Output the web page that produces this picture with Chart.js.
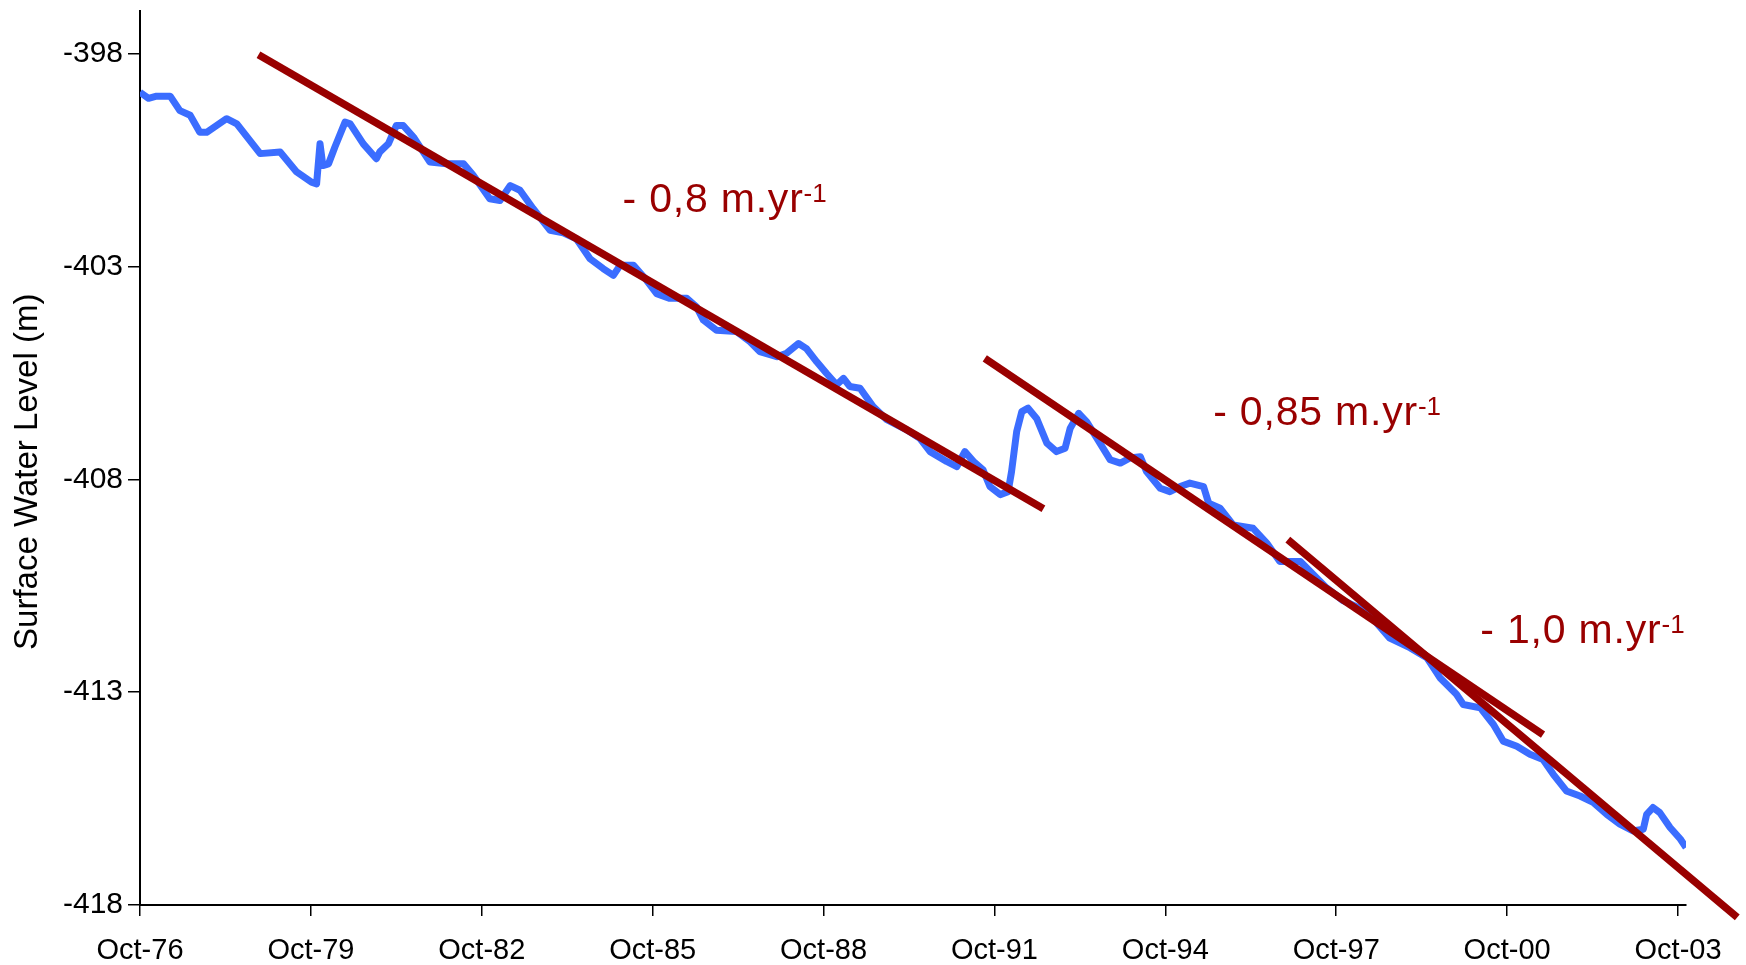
<!DOCTYPE html>
<html>
<head>
<meta charset="utf-8">
<script src="https://cdn.jsdelivr.net/npm/chart.js@4"></script>
<style>
  html, body { margin: 0; padding: 0; background: #fff; }
  canvas { display: block; }
</style>
</head>
<body>
<canvas id="levelChart" width="1746" height="965"></canvas>
<script>
// decimal years (Oct-76 = 1976.75) and surface level in metres
const obsYears = [
  1976.75, 1976.90, 1977.04, 1977.28, 1977.45, 1977.63, 1977.80, 1977.92, 1978.27, 1978.45,
  1978.86, 1979.21, 1979.50, 1979.76, 1979.85, 1979.91, 1979.96, 1980.06, 1980.17, 1980.35,
  1980.44, 1980.67, 1980.90, 1980.96, 1981.11, 1981.25, 1981.37, 1981.55, 1981.84, 1982.13,
  1982.43, 1982.60, 1982.89, 1983.07, 1983.25, 1983.42, 1983.65, 1983.95, 1984.18, 1984.41,
  1984.65, 1984.88, 1985.06, 1985.18, 1985.41, 1985.64, 1985.82, 1986.05, 1986.35, 1986.52,
  1986.64, 1986.87, 1987.22, 1987.46, 1987.63, 1987.93, 1988.10, 1988.31, 1988.45, 1988.63,
  1988.80, 1988.98, 1989.10, 1989.21, 1989.39, 1989.62, 1989.86, 1990.21, 1990.44, 1990.62,
  1990.91, 1991.09, 1991.23, 1991.38, 1991.55, 1991.67, 1991.85, 1991.99, 1992.05, 1992.14,
  1992.23, 1992.34, 1992.49, 1992.67, 1992.84, 1992.99, 1993.08, 1993.23, 1993.37, 1993.55,
  1993.78, 1993.96, 1994.13, 1994.31, 1994.42, 1994.66, 1994.83, 1995.01, 1995.18, 1995.42,
  1995.51, 1995.71, 1995.94, 1996.29, 1996.53, 1996.76, 1997.12, 1997.35, 1997.58, 1997.87,
  1998.28, 1998.69, 1999.05, 1999.34, 1999.57, 1999.86, 1999.98, 2000.28, 2000.51, 2000.68,
  2000.92, 2001.15, 2001.38, 2001.56, 2001.79, 2002.03, 2002.26, 2002.50, 2002.73, 2002.96,
  2003.14, 2003.20, 2003.31, 2003.43, 2003.61, 2003.79, 2003.89
];
const obsLevel = [
  -398.91, -399.05, -399.00, -399.00, -399.34, -399.45, -399.85, -399.85, -399.53, -399.65,
  -400.35, -400.31, -400.78, -401.02, -401.06, -400.12, -400.63, -400.59, -400.20, -399.61,
  -399.65, -400.12, -400.47, -400.31, -400.12, -399.69, -399.69, -399.96, -400.55, -400.59,
  -400.59, -400.86, -401.41, -401.45, -401.10, -401.21, -401.64, -402.15, -402.21, -402.35,
  -402.82, -403.05, -403.21, -402.97, -402.97, -403.32, -403.64, -403.75, -403.75, -403.95,
  -404.26, -404.50, -404.53, -404.77, -405.00, -405.12, -405.04, -404.81, -404.93, -405.24,
  -405.51, -405.78, -405.63, -405.82, -405.86, -406.29, -406.60, -406.84, -407.04, -407.35,
  -407.58, -407.70, -407.35, -407.58, -407.78, -408.17, -408.36, -408.29, -407.82, -406.88,
  -406.41, -406.33, -406.57, -407.15, -407.35, -407.27, -406.80, -406.45, -406.65, -407.04,
  -407.54, -407.62, -407.50, -407.47, -407.82, -408.21, -408.29, -408.17, -408.09, -408.17,
  -408.56, -408.68, -409.07, -409.15, -409.50, -409.93, -409.93, -410.24, -410.55, -410.85,
  -411.10, -411.73, -411.96, -412.19, -412.66, -413.05, -413.29, -413.37, -413.76, -414.15,
  -414.27, -414.46, -414.58, -414.93, -415.32, -415.44, -415.59, -415.87, -416.10, -416.26,
  -416.22, -415.87, -415.71, -415.83, -416.18, -416.45, -416.65
];

// fitted trend segments (start, end)
const trend1Years = [1978.83, 1992.61];
const trend1Level = [-398.03, -408.69];
const trend2Years = [1991.58, 2001.38];
const trend2Level = [-405.16, -414.00];
const trend3Years = [1996.90, 2004.79];
const trend3Level = [-409.42, -418.29];

const xTickValues = [1976.75, 1979.75, 1982.75, 1985.75, 1988.75, 1991.75, 1994.75, 1997.75, 2000.75, 2003.75];
const xTickLabels = ['Oct-76', 'Oct-79', 'Oct-82', 'Oct-85', 'Oct-88', 'Oct-91', 'Oct-94', 'Oct-97', 'Oct-00', 'Oct-03'];
const yTickValues = [-418, -413, -408, -403, -398];

const slopeLabels = ['- 0,8 m.yr', '- 0,85 m.yr', '- 1,0 m.yr'];
const slopeLabelYears = [1985.22, 1995.59, 2000.28];
const slopeLabelLevel = [-401.72, -406.72, -411.84];

const toPoints = (xs, ys) => xs.map((x, i) => ({ x, y: ys[i] }));

const RED = '#990000';
const FONT = '"Liberation Sans", Arial, sans-serif';

// rate labels with superscript, placed in data coordinates
const slopeNotes = {
  id: 'slopeNotes',
  afterDatasetsDraw(chart) {
    const { ctx, scales: { x, y } } = chart;
    ctx.save();
    ctx.fillStyle = RED;
    ctx.textAlign = 'left';
    ctx.textBaseline = 'alphabetic';
    slopeLabels.forEach((txt, i) => {
      const px = x.getPixelForValue(slopeLabelYears[i]);
      const py = y.getPixelForValue(slopeLabelLevel[i]);
      ctx.font = '41px ' + FONT;
      ctx.letterSpacing = '0.8px';
      ctx.fillText(txt, px, py);
      const w = ctx.measureText(txt).width;
      ctx.font = '26px ' + FONT;
      ctx.letterSpacing = '0px';
      ctx.fillText('-1', px + w, py - 10);
    });
    ctx.restore();
  }
};

const trendStyle = {
  borderColor: RED,
  borderWidth: 7.5,
  borderCapStyle: 'butt',
  pointRadius: 0,
  fill: false,
  order: 1,
  clip: false
};

new Chart(document.getElementById('levelChart'), {
  type: 'line',
  data: {
    datasets: [
      { ...trendStyle, data: toPoints(trend1Years, trend1Level) },
      { ...trendStyle, data: toPoints(trend2Years, trend2Level) },
      { ...trendStyle, data: toPoints(trend3Years, trend3Level) },
      {
        data: toPoints(obsYears, obsLevel),
        borderColor: '#3b6dff',
        borderWidth: 7,
        borderJoinStyle: 'round',
        pointRadius: 0,
        tension: 0,
        fill: false,
        order: 2
      }
    ]
  },
  options: {
    responsive: false,
    devicePixelRatio: 1,
    animation: false,
    layout: { padding: { top: 7, right: 60, bottom: 0, left: 0 } },
    plugins: { legend: { display: false }, tooltip: { enabled: false } },
    scales: {
      x: {
        type: 'linear',
        min: 1976.75,
        max: 2003.89,
        afterBuildTicks: (axis) => { axis.ticks = xTickValues.map(v => ({ value: v })); },
        afterFit: (axis) => { axis.height = 60; },
        grid: { drawOnChartArea: false, drawTicks: true, tickLength: 11, color: '#000', lineWidth: 1.5 },
        border: { display: true, color: '#000', width: 2 },
        ticks: {
          autoSkip: false,
          maxRotation: 0,
          padding: 18,
          color: '#000',
          font: { family: FONT, size: 29 },
          callback: (v, i) => xTickLabels[i]
        }
      },
      y: {
        min: -418,
        max: -397,
        afterBuildTicks: (axis) => { axis.ticks = yTickValues.map(v => ({ value: v })); },
        afterFit: (axis) => { axis.width = 140; },
        grid: { drawOnChartArea: false, drawTicks: true, tickLength: 12, color: '#000', lineWidth: 1.5 },
        border: { display: true, color: '#000', width: 2 },
        title: {
          display: true,
          text: 'Surface Water Level (m)   ',
          color: '#000',
          font: { family: FONT, size: 33 },
          padding: { top: 8, bottom: 0 }
        },
        ticks: {
          padding: 5,
          color: '#000',
          font: { family: FONT, size: 30, lineHeight: 0.4 },
          callback: (v) => String(v)
        }
      }
    }
  },
  plugins: [slopeNotes]
});
</script>
</body>
</html>
